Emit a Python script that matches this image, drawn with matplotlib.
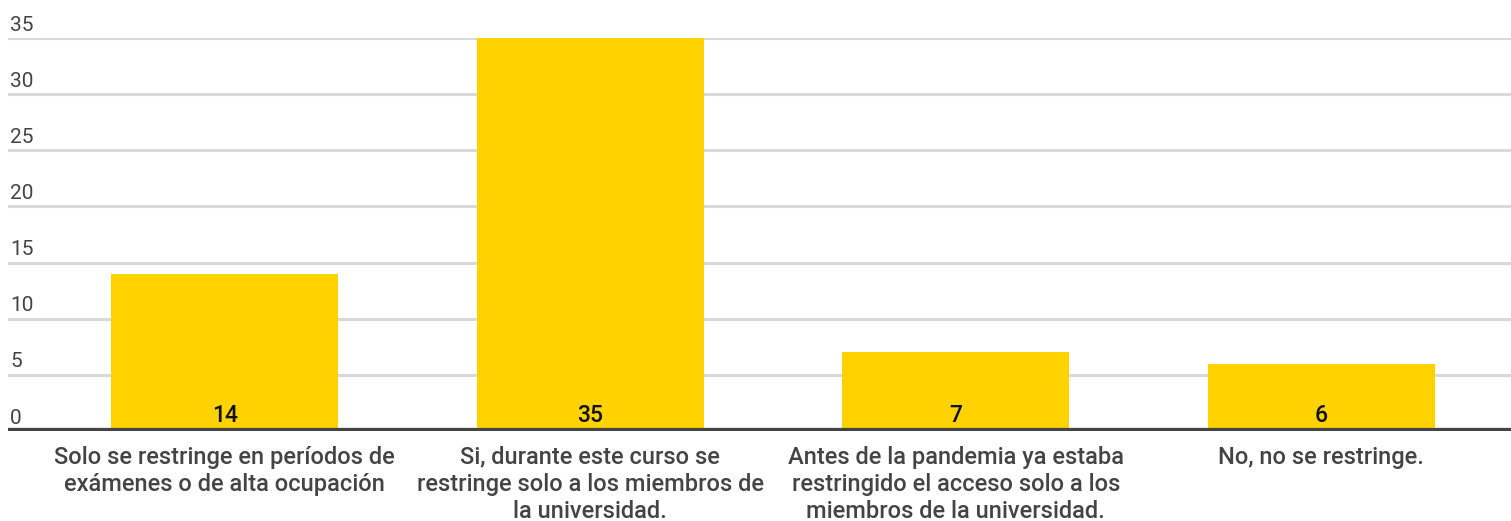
import matplotlib
matplotlib.use("Agg")
import matplotlib.pyplot as plt

categories = [
    "Solo se restringe en períodos de\nexámenes o de alta ocupación",
    "Si, durante este curso se\nrestringe solo a los miembros de\nla universidad.",
    "Antes de la pandemia ya estaba\nrestringido el acceso solo a los\nmiembros de la universidad.",
    "No, no se restringe.",
]
values = [14, 35, 7, 6]
yticks = [0, 5, 10, 15, 20, 25, 30, 35]

plt.rcParams['font.family'] = ['Roboto', 'DejaVu Sans']

W, H = 1511, 521
fig = plt.figure(figsize=(W / 100, H / 100), dpi=100)
ax_left, ax_right = 8, 1511
y_base, y_top = 431, 38
ax = fig.add_axes([ax_left / W, (H - y_base) / H, (ax_right - ax_left) / W, (y_base - y_top) / H])

step = 365.5
xl = -0.5 - (42 - ax_left) / step
xr = 3.5 + (ax_right - 1504) / step
x = list(range(len(values)))
ax.bar(x, values, width=227 / step, color="#FFD200", zorder=2)
ax.set_xlim(xl, xr)
ax.set_ylim(0, 35)

for v in yticks[1:]:
    ax.axhline(v, color="#d9d9d9", lw=2.2, zorder=1)
ax.axhline(0, color="#444444", lw=4.5, zorder=3)

for s in ax.spines.values():
    s.set_visible(False)
ax.set_xticks([])
ax.set_yticks([])

for v in yticks:
    ax.text(xl + 2 / step, v + 0.3, str(v), ha="left", va="bottom",
            fontsize=15, color="#444444")

for xi, v in zip(x, values):
    ax.text(xi, 0.4, str(v), ha="center", va="bottom", fontsize=16.5,
            fontweight="medium", color="#111111", zorder=4)

for xi, c in zip(x, categories):
    ax.text(xi, -1.3, c, ha="center", va="top", fontsize=17, color="#444444",
            fontweight="medium", linespacing=1.22, transform=ax.transData)

fig.savefig("out.png", dpi=100)
